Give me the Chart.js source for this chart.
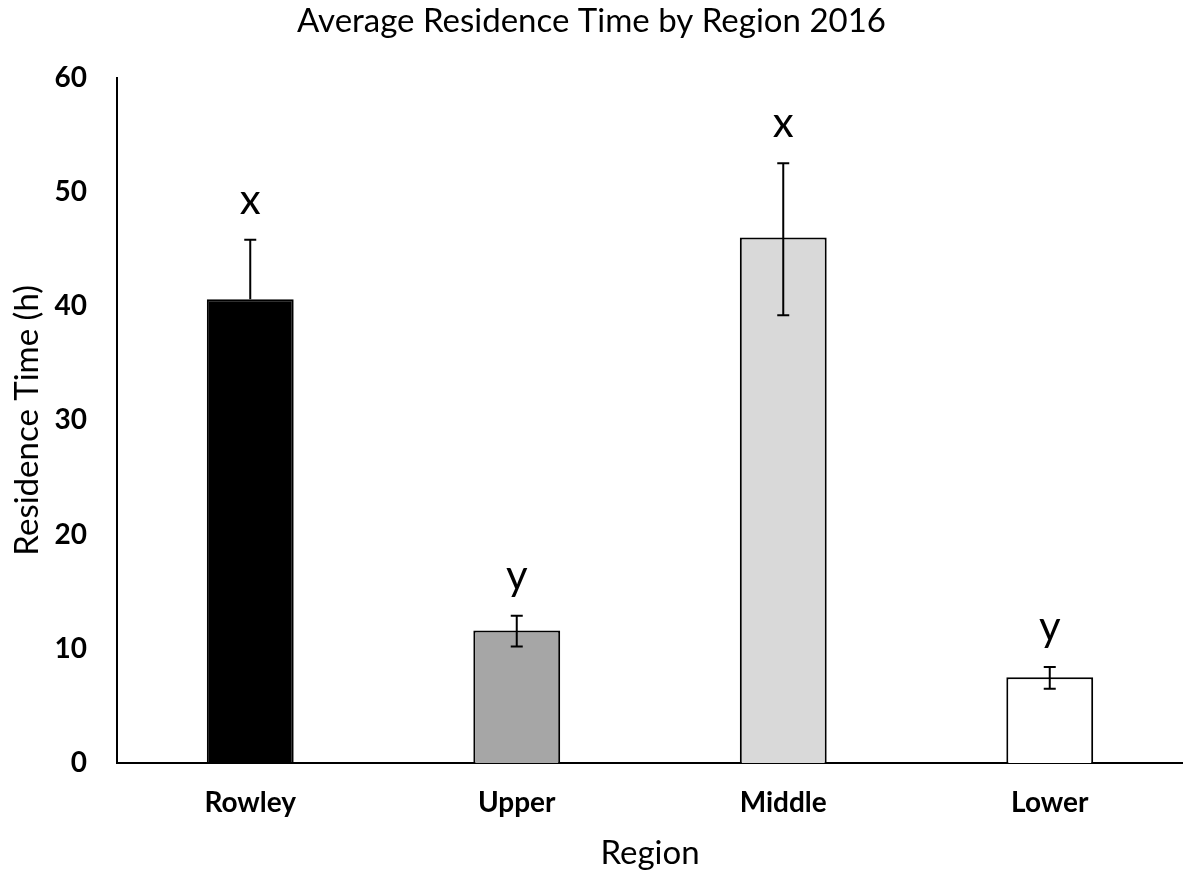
<!DOCTYPE html>
<html><head><meta charset="utf-8">
<script src="https://cdn.jsdelivr.net/npm/chart.js@4.4.1/dist/chart.umd.min.js"></script>
<style>html,body{margin:0;padding:0;background:#fff}#wrap{width:1183px;height:873px}</style>
</head><body><div id="wrap"><canvas id="c" width="1183" height="873"></canvas></div>
<script>
const categories = ["Rowley", "Upper", "Middle", "Lower"];
const meanValues = [40.6, 11.6, 46.0, 7.5];
const errorUpper = [45.8, 12.9, 52.5, 8.4];
const errorLower = [40.6, 10.2, 39.2, 6.5];
const groupLetters = ["x", "y", "x", "y"];
const barColors = ["#000000", "#a6a6a6", "#d9d9d9", "#ffffff"];
const yTicks = [0, 10, 20, 30, 40, 50, 60];

const FONT = "Lato, 'Open Sans', sans-serif";

const errorBarPlugin = {
  id: 'errorBars',
  afterDatasetsDraw(chart) {
    const ctx = chart.ctx;
    const meta = chart.getDatasetMeta(0);
    const y = chart.scales.y;
    ctx.save();
    ctx.strokeStyle = '#000';
    ctx.lineWidth = 2;
    meta.data.forEach((bar, i) => {
      const x = bar.x;
      const top = y.getPixelForValue(errorUpper[i]);
      const bot = y.getPixelForValue(errorLower[i]);
      ctx.beginPath();
      ctx.moveTo(x, top); ctx.lineTo(x, bot);
      ctx.moveTo(x - 6, top); ctx.lineTo(x + 6, top);
      if (errorLower[i] < meanValues[i]) { ctx.moveTo(x - 6, bot); ctx.lineTo(x + 6, bot); }
      ctx.stroke();
      ctx.fillStyle = '#000';
      ctx.font = "42px " + FONT;
      ctx.textAlign = 'center';
      ctx.textBaseline = 'alphabetic';
      ctx.fillText(groupLetters[i], x, top - 26);
    });
    ctx.restore();
  }
};

new Chart(document.getElementById('c'), {
  type: 'bar',
  data: {
    labels: categories,
    datasets: [{
      data: meanValues,
      backgroundColor: barColors,
      borderColor: '#000',
      borderWidth: 2,
      barPercentage: 0.326,
      categoryPercentage: 1.0
    }]
  },
  options: {
    responsive: false,
    animation: false,
    layout: { padding: { top: 0, right: 0, left: 0, bottom: 0 } },
    plugins: {
      legend: { display: false },
      tooltip: { enabled: false },
      title: {
        display: true,
        text: 'Average Residence Time by Region 2016',
        color: '#000',
        font: { family: FONT, size: 33, weight: 'normal' },
        padding: { top: 2, bottom: 36 }
      }
    },
    scales: {
      x: {
        grid: { display: false, drawTicks: false },
        border: { color: '#000', width: 2 },
        ticks: { color: '#000', font: { family: FONT, size: 28, weight: 'bold' }, padding: 23 },
        title: { display: true, text: 'Region', color: '#000', font: { family: FONT, size: 33 }, padding: { top: 4, bottom: 0 } },
        afterFit(s) { s.height = 110; }
      },
      y: {
        min: 0, max: 60,
        afterBuildTicks(s) { s.ticks = yTicks.map(v => ({ value: v })); },
        grid: { display: false, drawTicks: false },
        border: { color: '#000', width: 2 },
        ticks: { color: '#000', font: { family: FONT, size: 28, weight: 'bold' }, padding: 30 },
        title: { display: true, text: 'Residence Time (h)', color: '#000', font: { family: FONT, size: 33 }, padding: { top: 8, bottom: 4 } },
        afterFit(s) { s.width = 117; }
      }
    }
  },
  plugins: [errorBarPlugin]
});
</script></body></html>
